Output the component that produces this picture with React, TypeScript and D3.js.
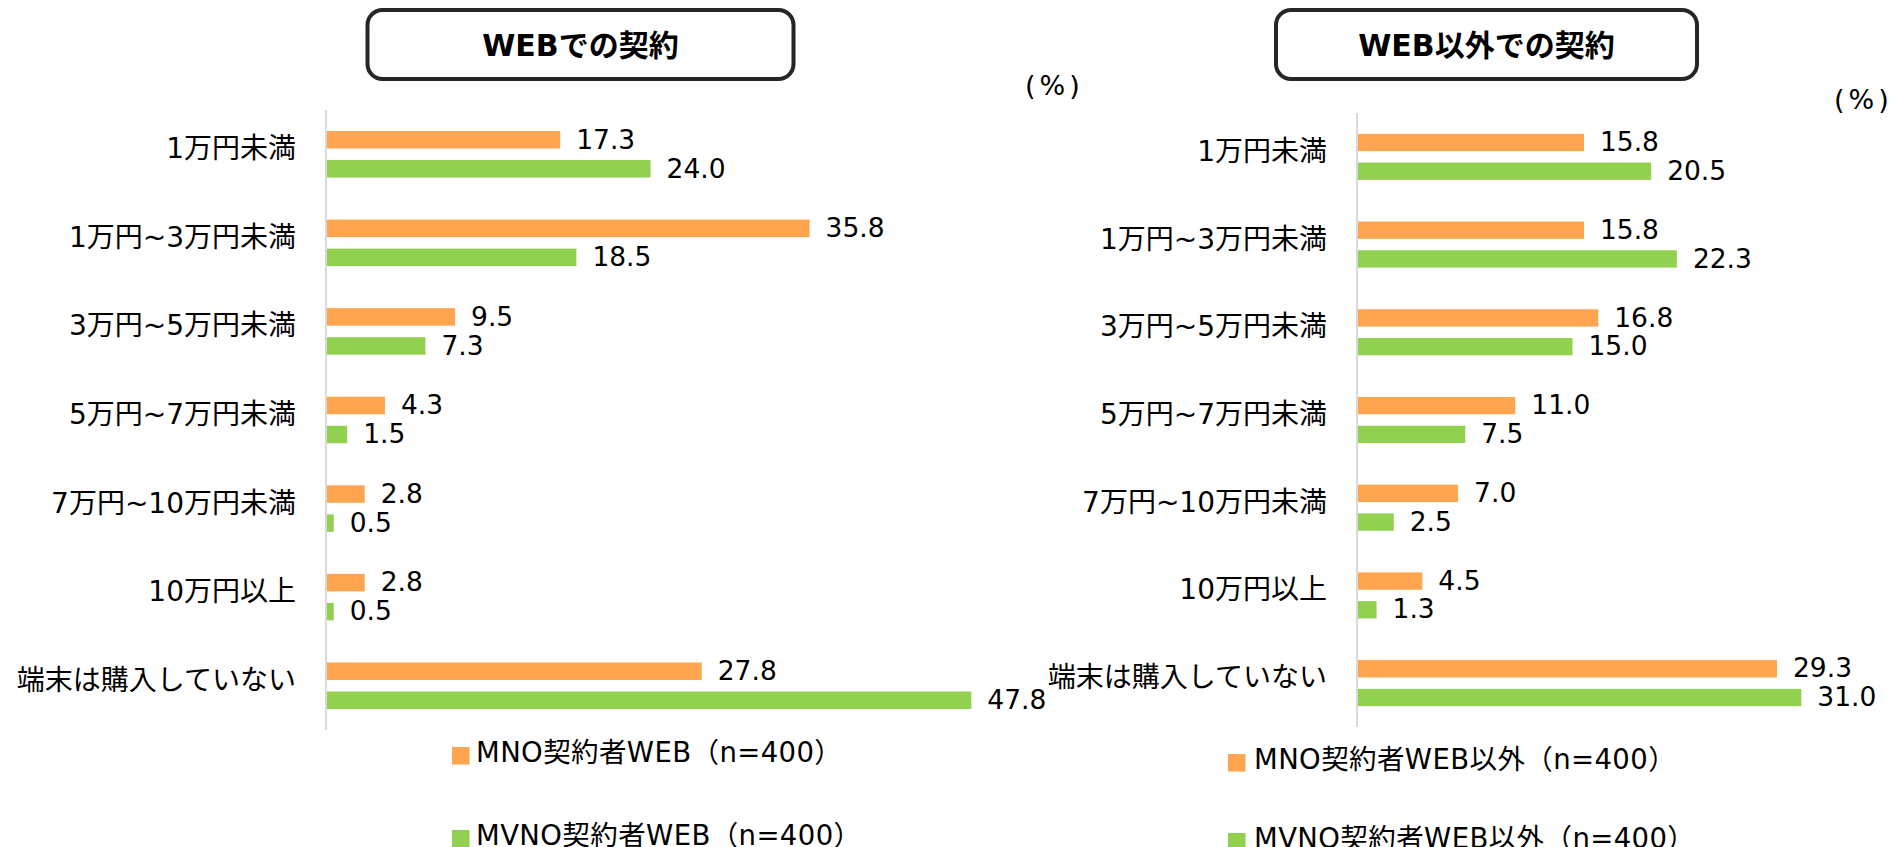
import React from 'react';
import * as d3 from 'd3';

const categories = ['1万円未満', '1万円~3万円未満', '3万円~5万円未満', '5万円~7万円未満', '7万円~10万円未満', '10万円以上', '端末は購入していない'];
const webMNO = [17.3, 35.8, 9.5, 4.3, 2.8, 2.8, 27.8];
const webMVNO = [24.0, 18.5, 7.3, 1.5, 0.5, 0.5, 47.8];
const nonWebMNO = [15.8, 15.8, 16.8, 11.0, 7.0, 4.5, 29.3];
const nonWebMVNO = [20.5, 22.3, 15.0, 7.5, 2.5, 1.3, 31.0];
const seriesKeys = ['mno', 'mvno'];
const leftTitle = 'WEBでの契約';
const rightTitle = 'WEB以外での契約';
const leftLegend = ['MNO契約者WEB（n=400）', 'MVNO契約者WEB（n=400）'];
const rightLegend = ['MNO契約者WEB以外（n=400）', 'MVNO契約者WEB以外（n=400）'];
const unitLabel = '(%)';

const ORANGE = '#FFA54F';
const GREEN = '#92D050';
const LATIN = "'DejaVu Sans', 'Noto Sans CJK JP', sans-serif";

type PanelProps = {
  title: string;
  mno: number[];
  mvno: number[];
  legend: string[];
  x0: number;
  y0: number;
  y1: number;
  pxPerUnit: number;
  box: { x: number; y: number; w: number; h: number };
  legendX: number;
  legendY: number;
  legendStep: number;
  legendTextX: number;
};

function Panel(p: PanelProps) {
  const x = d3.scaleLinear().domain([0, 50]).range([p.x0, p.x0 + 50 * p.pxPerUnit]);
  const y = d3.scaleBand<string>().domain(categories).range([p.y0, p.y1]).paddingInner(0).paddingOuter(0);
  const sub = d3.scaleBand<string>().domain(seriesKeys).range([0, y.bandwidth()]).paddingInner(0.397).paddingOuter(0.725);
  const colors = [ORANGE, GREEN];
  const vals = [p.mno, p.mvno];
  return (
    <g>
      <rect x={p.box.x} y={p.box.y} width={p.box.w} height={p.box.h} rx={15} ry={15} fill="#fff" stroke="#262626" strokeWidth={4} />
      <text x={p.box.x + p.box.w / 2} y={p.box.y + p.box.h / 2 + 11} textAnchor="middle" fontFamily={LATIN} fontWeight="bold" fontSize={30} fill="#000">{p.title}</text>
      <line x1={p.x0 - 1} x2={p.x0 - 1} y1={p.y0} y2={p.y1} stroke="#d9d9d9" strokeWidth={2} />
      {categories.map((c, i) => {
        const by = y(c)!;
        return (
          <g key={c}>
            <text x={p.x0 - 31} y={by + y.bandwidth() / 2 + 4} textAnchor="end" fontFamily={LATIN} fontSize={28} fill="#000">{c}</text>
            {seriesKeys.map((k, j) => {
              const v = vals[j][i];
              const ry = by + sub(k)!;
              return (
                <g key={k}>
                  <rect x={x(0)} y={ry} width={x(v) - x(0)} height={sub.bandwidth()} fill={colors[j]} />
                  <text x={x(v) + 16} y={ry + sub.bandwidth()} fontFamily={LATIN} fontSize={26.5} fill="#000">{v.toFixed(1)}</text>
                </g>
              );
            })}
          </g>
        );
      })}
      {p.legend.map((l, j) => (
        <g key={l}>
          <rect x={p.legendX} y={p.legendY + j * p.legendStep} width={17.5} height={17.5} fill={colors[j]} />
          <text x={p.legendTextX} y={p.legendY + j * p.legendStep + 15} fontFamily={LATIN} fontSize={27.5} letterSpacing={0.4} fill="#000">{l}</text>
        </g>
      ))}
    </g>
  );
}

export default function App() {
  return (
    <svg width={1893} height={847} style={{ position: 'absolute', left: 0, top: 0, background: '#fff' }}>
      <rect x={0} y={0} width={1893} height={847} fill="#fff" />
      <Panel
        title={leftTitle}
        mno={webMNO}
        mvno={webMVNO}
        legend={leftLegend}
        x0={327}
        y0={110}
        y1={730}
        pxPerUnit={13.48}
        box={{ x: 367.5, y: 10, w: 426, h: 69 }}
        legendX={452}
        legendY={747}
        legendStep={83}
        legendTextX={476}
      />
      <Panel
        title={rightTitle}
        mno={nonWebMNO}
        mvno={nonWebMVNO}
        legend={rightLegend}
        x0={1358}
        y0={113}
        y1={727}
        pxPerUnit={14.3}
        box={{ x: 1276, y: 10, w: 421, h: 69 }}
        legendX={1228}
        legendY={754}
        legendStep={79}
        legendTextX={1254}
      />
      <text x={1025} y={95} fontFamily={LATIN} fontSize={27} letterSpacing={4} fill="#000">{unitLabel}</text>
      <text x={1834} y={109} fontFamily={LATIN} fontSize={27} letterSpacing={4} fill="#000">{unitLabel}</text>
    </svg>
  );
}
